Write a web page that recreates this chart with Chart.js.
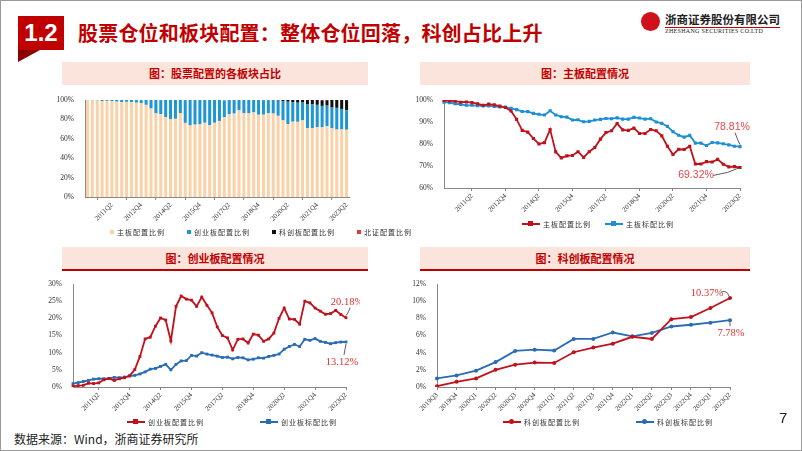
<!DOCTYPE html>
<html lang="zh">
<head>
<meta charset="UTF-8">
<title>股票仓位和板块配置</title>
<script src="https://cdn.jsdelivr.net/npm/chart.js"></script>
<style>
  html, body { margin: 0; padding: 0; }
  body { width: 802px; height: 451px; position: relative; overflow: hidden; background: #fff;
         font-family: "Noto Sans CJK SC", "Noto Sans", sans-serif; }
  .frame { position: absolute; left: 0; top: 0; width: 800px; height: 449px; border: 1px solid #9a9a9a; }
  .secno { position: absolute; left: 18px; top: 16px; width: 46px; height: 34px; background: #c00000;
           color: #fff; font: bold 24px "Liberation Sans", Arial, sans-serif; line-height: 34px; text-align: center; }
  .secno-tail { position: absolute; left: 18px; top: 50px; width: 0; height: 0;
                border-top: 12px solid #8b0000; border-right: 22px solid transparent; }
  .title { position: absolute; left: 78px; top: 18px; color: #c00000; font-size: 20px; font-weight: bold;
           letter-spacing: 0.2px; }
  .logo-mark { position: absolute; left: 641px; top: 12px; width: 19px; height: 19px; border-radius: 50%; background: #d0101a; }
  .logo-cn { position: absolute; left: 665px; top: 11px; font-size: 11.5px; font-weight: bold; color: #222; }
  .logo-en { position: absolute; left: 665px; top: 28px; font: 6px "Liberation Serif", serif; color: #222; letter-spacing: 0.3px; }
  .logo-line { position: absolute; left: 665px; top: 27px; width: 115px; height: 1px; background: #c00000; }
  .head { position: absolute; height: 23px; background: #fbe4dc; color: #c00000; font-size: 11px; font-weight: bold;
          text-align: center; line-height: 23px; }
  .head.red { border-bottom: 2px solid #c00000; height: 22px; line-height: 22px; }
  canvas { position: absolute; }
  .legend { position: absolute; font-size: 7px; color: #333; white-space: nowrap; letter-spacing: 1px; }
  .legend span { display: inline-flex; align-items: center; }
  .legend .ln { display: inline-block; width: 18px; height: 2px; position: relative; margin-right: 3px; }
  .legend .ln b { position: absolute; left: 6px; top: -2px; width: 5px; height: 5px; }
  .legend .sq { display: inline-block; width: 4px; height: 4px; margin-right: 3px; }
  .pageno { position: absolute; left: 779px; top: 409px; font: 15px "Liberation Sans", Arial, sans-serif; color: #222; }
  .source { position: absolute; left: 14px; top: 430px; font-size: 12px; color: #222; }
</style>
</head>
<body>
<div class="frame"></div>
<div class="secno">1.2</div>
<div class="secno-tail"></div>
<div class="title">股票仓位和板块配置：整体仓位回落，科创占比上升</div>
<div class="logo-mark"></div>
<div class="logo-cn">浙商证券股份有限公司</div>
<div class="logo-line"></div>
<div class="logo-en">ZHESHANG SECURITIES CO.LTD</div>

<div class="head" style="left:62px;top:62px;width:306px;">图：股票配置的各板块占比</div>
<div class="head" style="left:420px;top:62px;width:330px;">图：主板配置情况</div>
<div class="head red" style="left:62px;top:247px;width:306px;">图：创业板配置情况</div>
<div class="head red" style="left:420px;top:247px;width:330px;">图：科创板配置情况</div>

<canvas id="c1" width="310" height="140" style="left:50px;top:88px;"></canvas>
<canvas id="c2" width="390" height="130" style="left:400px;top:88px;"></canvas>
<canvas id="c3" width="330" height="150" style="left:30px;top:270px;"></canvas>
<canvas id="c4" width="390" height="150" style="left:400px;top:270px;"></canvas>

<div class="legend" id="lg1" style="left:110px;top:226px;"></div>
<div class="legend" id="lg2" style="left:522px;top:217px;"></div>
<div class="legend" id="lg3" style="left:127px;top:415px;"></div>
<div class="legend" id="lg4" style="left:503px;top:415px;"></div>

<div class="pageno">7</div>
<div class="source">数据来源：Wind，浙商证券研究所</div>

<script>
// quarters 2010Q1 - 2023Q2
const quarters = ['2010Q1','2010Q2','2010Q3','2010Q4','2011Q1','2011Q2','2011Q3','2011Q4',
  '2012Q1','2012Q2','2012Q3','2012Q4','2013Q1','2013Q2','2013Q3','2013Q4',
  '2014Q1','2014Q2','2014Q3','2014Q4','2015Q1','2015Q2','2015Q3','2015Q4',
  '2016Q1','2016Q2','2016Q3','2016Q4','2017Q1','2017Q2','2017Q3','2017Q4',
  '2018Q1','2018Q2','2018Q3','2018Q4','2019Q1','2019Q2','2019Q3','2019Q4',
  '2020Q1','2020Q2','2020Q3','2020Q4','2021Q1','2021Q2','2021Q3','2021Q4',
  '2022Q1','2022Q2','2022Q3','2022Q4','2023Q1','2023Q2'];
const shownQuarters = ['2011Q2','2012Q4','2014Q2','2015Q4','2017Q2','2018Q4','2020Q2','2021Q4','2023Q2'];

// 主板
const mainShare = [99.8,99.6,99.5,99.0,99.1,98.8,98.3,97.6,98.1,97.8,97.2,96.6,95.0,91.2,86.2,85.4,
  82.5,80.0,80.6,86.6,76.4,73.7,74.6,74.8,76.5,73.9,76.5,78.4,82.2,85.2,86.0,89.3,
  86.4,86.2,87.2,84.8,84.8,86.6,86.0,83.7,79.0,75.2,77.6,77.5,79.0,70.9,70.9,72.0,
  71.8,73.0,70.8,69.6,69.7,69.32];
const mainBench = [99.0,98.8,98.3,98.0,97.6,97.6,97.4,97.3,97.3,97.1,96.8,96.8,96.2,95.6,94.8,94.7,
  93.9,93.5,93.2,95.1,93.2,92.4,92.2,90.9,91.0,90.1,90.3,90.9,91.2,91.6,91.5,91.9,
  91.3,91.3,92.1,91.8,91.3,91.5,90.0,89.4,88.0,85.6,84.0,83.1,83.9,80.4,80.4,79.3,
  80.7,80.5,80.1,79.6,79.0,78.81];

// 创业板
const gemShare = [0.2,0.4,0.5,1.1,1.0,1.2,2.1,2.5,1.9,2.4,2.7,3.3,5.1,8.9,14.0,14.5,
  17.7,20.1,19.5,13.4,23.5,26.5,25.6,25.3,23.5,26.2,23.8,21.6,17.5,15.0,14.3,10.8,
  13.9,14.0,12.8,15.4,15.1,13.3,14.0,15.7,20.0,23.0,19.8,19.7,18.3,25.0,24.5,23.0,
  22.1,21.2,21.4,22.3,21.1,20.18];
const gemBench = [1.0,1.3,1.6,1.9,2.3,2.4,2.4,2.5,2.8,2.7,2.9,3.2,3.4,3.8,4.4,5.2,
  5.4,6.0,6.6,5.0,6.6,7.6,7.7,9.2,9.0,10.0,9.6,9.3,9.0,8.6,8.7,8.2,
  8.6,8.5,7.9,8.1,8.5,8.4,8.9,9.2,9.6,11.0,11.8,12.4,11.8,13.9,13.6,14.1,
  13.3,13.0,12.6,12.9,13.1,13.12];

// 科创板 (2019Q3 - 2023Q2)
const starQuarters = ['2019Q3','2019Q4','2020Q1','2020Q2','2020Q3','2020Q4','2021Q1','2021Q2',
  '2021Q3','2021Q4','2022Q1','2022Q2','2022Q3','2022Q4','2023Q1','2023Q2'];
const starShare = [0.1,0.6,1.0,2.0,2.6,2.85,2.8,4.05,4.6,5.05,5.85,5.6,7.9,8.15,9.2,10.37];
const starBench = [1.0,1.35,1.9,2.9,4.2,4.35,4.25,5.6,5.6,6.35,5.9,6.3,7.05,7.25,7.5,7.78];

// 北证 (2021Q4 起)
const bseQuarters = ['2021Q4','2022Q1','2022Q2','2022Q3','2022Q4','2023Q1','2023Q2'];
const bseShare = [0.02,0.04,0.05,0.07,0.1,0.1,0.13];

const names1 = ['主板配置比例','创业板配置比例','科创板配置比例','北证配置比例'];
const names2 = ['主板配置比例','主板标配比例'];
const names3 = ['创业板配置比例','创业板标配比例'];
const names4 = ['科创板配置比例','科创板标配比例'];

const RED = '#c0121c', BLUE = '#1e8fd5', DBLUE = '#2a6cb3';
const serif = '"Liberation Serif", "Times New Roman", serif';

// align the shorter series to the full quarter axis
function onQuarters(qs, vals) {
  return quarters.map(q => { const i = qs.indexOf(q); return i < 0 ? null : vals[i]; });
}

function xAxis(offset, showAll) {
  return {
    offset: offset,
    grid: { display: true, drawOnChartArea: false, drawTicks: true, tickLength: 3, color: '#888' },
    border: { display: true, color: '#888' },
    ticks: { autoSkip: false, minRotation: 45, maxRotation: 45, padding: 1,
             font: { family: serif, size: 7 }, color: '#333' },
    afterBuildTicks: showAll ? undefined : (scale) => {
      scale.ticks = scale.ticks.filter(t => shownQuarters.includes(quarters[t.value]));
    }
  };
}
function yAxis(min, max, step, width) {
  return {
    min: min, max: max,
    grid: { display: false, drawTicks: true },
    border: { display: true, color: '#888' },
    ticks: { stepSize: step, padding: 3, font: { family: serif, size: 7.5 }, color: '#333',
             callback: v => v + '%' },
    afterFit: (scale) => { scale.width = width; }
  };
}

// end-of-line value labels with leader lines
const endLabels = {
  id: 'endLabels',
  afterDatasetsDraw(chart, args, opts) {
    const ctx = chart.ctx;
    (opts.items || []).forEach(it => {
      const meta = chart.getDatasetMeta(it.ds);
      const data = chart.data.datasets[it.ds].data;
      const pt = meta.data[meta.data.length - 1];
      const val = data[data.length - 1];
      ctx.save();
      ctx.strokeStyle = '#333';
      ctx.lineWidth = 0.8;
      ctx.beginPath();
      ctx.moveTo(pt.x + it.line[0], pt.y + it.line[1]);
      ctx.quadraticCurveTo(pt.x + it.line[2], pt.y + it.line[3], pt.x + it.line[4], pt.y + it.line[5]);
      ctx.stroke();
      ctx.fillStyle = it.color;
      ctx.font = it.font;
      ctx.textAlign = 'center';
      ctx.textBaseline = 'middle';
      ctx.fillText(val.toFixed(2) + '%', pt.x + it.dx, pt.y + it.dy);
      ctx.restore();
    });
  }
};

function lineSet(label, data, color, style, size) {
  return { label: label, data: data, borderColor: color, backgroundColor: color,
           borderWidth: 1.8, pointStyle: style, pointRadius: size, pointHoverRadius: size,
           pointBorderWidth: 0, tension: 0 };
}

// 图1：股票配置的各板块占比
new Chart(document.getElementById('c1'), {
  type: 'bar',
  data: {
    labels: quarters,
    datasets: [
      { label: names1[0], data: mainShare, backgroundColor: '#fbd2a7' },
      { label: names1[1], data: gemShare, backgroundColor: '#1f96d4' },
      { label: names1[2], data: onQuarters(starQuarters, starShare), backgroundColor: '#111' },
      { label: names1[3], data: onQuarters(bseQuarters, bseShare), backgroundColor: '#e23b3b' }
    ]
  },
  options: {
    responsive: false, animation: false,
    layout: { padding: { top: 12, right: 11, left: 0, bottom: 0 } },
    plugins: { legend: { display: false }, tooltip: { enabled: false } },
    datasets: { bar: { categoryPercentage: 1, barPercentage: 0.62 } },
    scales: {
      x: Object.assign(xAxis(true, false), { stacked: true, afterFit: s => { s.height = 31; } }),
      y: Object.assign(yAxis(0, 100, 10, 35), { stacked: true })
    }
  }
});

// 图2：主板配置情况
new Chart(document.getElementById('c2'), {
  type: 'line',
  data: {
    labels: quarters,
    datasets: [
      lineSet(names2[0], mainShare, RED, 'rect', 2.2),
      lineSet(names2[1], mainBench, BLUE, 'rect', 2.2)
    ]
  },
  options: {
    responsive: false, animation: false,
    layout: { padding: { top: 12, right: 50, left: 0, bottom: 0 } },
    plugins: {
      legend: { display: false }, tooltip: { enabled: false },
      endLabels: { items: [
        { ds: 1, dx: -8, dy: -20, color: '#e8474c', font: '10.5px "Liberation Sans", Arial, sans-serif',
          line: [-5, -14, -3, -8, 0, -2] },
        { ds: 0, dx: -44, dy: 8, color: '#e8474c', font: '10.5px "Liberation Sans", Arial, sans-serif',
          line: [-27, 8, -12, 6, 0, 0] }
      ] }
    },
    scales: {
      x: Object.assign(xAxis(false, false), { afterFit: s => { s.height = 30; } }),
      y: yAxis(60, 100, 5, 44)
    }
  },
  plugins: [endLabels]
});

// 图3：创业板配置情况
new Chart(document.getElementById('c3'), {
  type: 'line',
  data: {
    labels: quarters,
    datasets: [
      lineSet(names3[0], gemShare, RED, 'rect', 2),
      lineSet(names3[1], gemBench, DBLUE, 'rect', 2)
    ]
  },
  options: {
    responsive: false, animation: false,
    layout: { padding: { top: 14, right: 14, left: 0, bottom: 0 } },
    plugins: {
      legend: { display: false }, tooltip: { enabled: false },
      endLabels: { items: [
        { ds: 0, dx: 1, dy: -15, color: '#e0302f', font: '10.5px ' + serif,
          line: [0, -2, 3, -6, 4, -10] },
        { ds: 1, dx: -4, dy: 20, color: '#e0302f', font: '10.5px ' + serif,
          line: [0, 2, -1, 7, -2, 13] }
      ] }
    },
    scales: {
      x: Object.assign(xAxis(false, false), { afterFit: s => { s.height = 33; } }),
      y: yAxis(0, 30, 5, 43)
    }
  },
  plugins: [endLabels]
});

// 图4：科创板配置情况
new Chart(document.getElementById('c4'), {
  type: 'line',
  data: {
    labels: starQuarters,
    datasets: [
      lineSet(names4[0], starShare, RED, 'circle', 2),
      lineSet(names4[1], starBench, DBLUE, 'circle', 2)
    ]
  },
  options: {
    responsive: false, animation: false,
    layout: { padding: { top: 14, right: 60, left: 0, bottom: 0 } },
    plugins: {
      legend: { display: false }, tooltip: { enabled: false },
      endLabels: { items: [
        { ds: 0, dx: -23, dy: -5, color: '#e0302f', font: '10.5px ' + serif,
          line: [-9, -6, -3, -8, -1, -2] },
        { ds: 1, dx: 1, dy: 13, color: '#e0302f', font: '10.5px ' + serif,
          line: [0, 2, 0, 4, 0, 6] }
      ] }
    },
    scales: {
      x: Object.assign(xAxis(false, true), { afterFit: s => { s.height = 33; } }),
      y: yAxis(0, 12, 2, 37)
    }
  },
  plugins: [endLabels]
});

// legends
function barLegend(el, names, colors) {
  el.innerHTML = names.map((n, i) =>
    '<span style="margin-right:22px"><i class="sq" style="background:' + colors[i] + '"></i>' + n + '</span>').join('');
}
function lineLegend(el, names, colors, gap, round) {
  el.innerHTML = names.map((n, i) =>
    '<span style="margin-right:' + gap + 'px"><i class="ln" style="background:' + colors[i] + '"><b style="background:' +
    colors[i] + (round ? ';border-radius:50%' : '') + '"></b></i>' + n + '</span>').join('');
}
barLegend(document.getElementById('lg1'), names1, ['#fbd2a7', '#1f96d4', '#111', '#e23b3b']);
lineLegend(document.getElementById('lg2'), names2, [RED, BLUE], 14, false);
lineLegend(document.getElementById('lg3'), names3, [RED, DBLUE], 56, false);
lineLegend(document.getElementById('lg4'), names4, [RED, DBLUE], 56, true);
</script>
</body>
</html>
